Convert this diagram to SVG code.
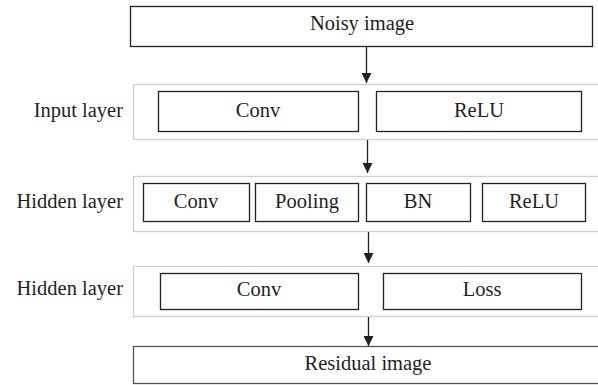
<svg xmlns="http://www.w3.org/2000/svg" width="598" height="385" viewBox="0 0 598 385">
<defs>
<style>
.box{fill:#fff;stroke:#231f20;stroke-width:1.3}
.layer{fill:#fff;stroke:#cfcfcf;stroke-width:1.3}
.t{font-family:"Liberation Serif","Times New Roman",serif;font-size:20.5px;fill:#231f20;text-anchor:middle}
.lbl{font-family:"Liberation Serif","Times New Roman",serif;font-size:20.5px;fill:#231f20;text-anchor:end}
.c{stroke:#231f20;stroke-width:1.3;fill:none}
</style>
<marker id="ah" markerWidth="10" markerHeight="10" refX="10" refY="5" orient="auto" markerUnits="userSpaceOnUse" viewBox="0 0 10 10">
<path d="M0,0 L10,5 L0,10 Z" fill="#231f20"/>
</marker>
</defs>
<g id="noisy"><rect class="box" x="130.5" y="6.5" width="462" height="40"/><text class="t" x="362" y="30">Noisy image</text></g>
<g id="input-layer">
<rect class="layer" x="133.5" y="84.5" width="470" height="55"/>
<text class="lbl" x="123" y="117">Input layer</text>
<g id="in-conv"><rect class="box" x="158.5" y="91.5" width="200" height="40"/><text class="t" x="258" y="117">Conv</text></g>
<g id="in-relu"><rect class="box" x="376.5" y="91.5" width="205" height="40"/><text class="t" x="479" y="117">ReLU</text></g>
</g>
<g id="hidden-layer-1">
<rect class="layer" x="133.5" y="176.5" width="470" height="55"/>
<text class="lbl" x="123" y="208">Hidden layer</text>
<g id="h1-conv"><rect class="box" x="143.5" y="183.5" width="106" height="38"/><text class="t" x="196" y="208">Conv</text></g>
<g id="h1-pool"><rect class="box" x="255.5" y="183.5" width="103" height="38"/><text class="t" x="307" y="208">Pooling</text></g>
<g id="h1-bn"><rect class="box" x="366.5" y="183.5" width="104" height="38"/><text class="t" x="418" y="208">BN</text></g>
<g id="h1-relu"><rect class="box" x="482.5" y="183.5" width="103" height="38"/><text class="t" x="534" y="208">ReLU</text></g>
</g>
<g id="hidden-layer-2">
<rect class="layer" x="133.5" y="266.5" width="470" height="50"/>
<text class="lbl" x="123" y="295">Hidden layer</text>
<g id="h2-conv"><rect class="box" x="160.5" y="273.5" width="198" height="36"/><text class="t" x="259" y="296">Conv</text></g>
<g id="h2-loss"><rect class="box" x="383.5" y="273.5" width="198" height="36"/><text class="t" x="482" y="296">Loss</text></g>
</g>
<g id="residual"><rect class="box" x="133.5" y="346.5" width="470" height="37" style="stroke:#555"/><text class="t" x="368" y="370">Residual image</text></g>
<g id="connectors">
<line class="c" x1="366.5" y1="46.5" x2="366.5" y2="83" marker-end="url(#ah)"/>
<line class="c" x1="367.5" y1="140" x2="367.5" y2="173" marker-end="url(#ah)"/>
<line class="c" x1="368.5" y1="232" x2="368.5" y2="263" marker-end="url(#ah)"/>
<line class="c" x1="368.5" y1="317" x2="368.5" y2="346" marker-end="url(#ah)"/>
</g>
</svg>
